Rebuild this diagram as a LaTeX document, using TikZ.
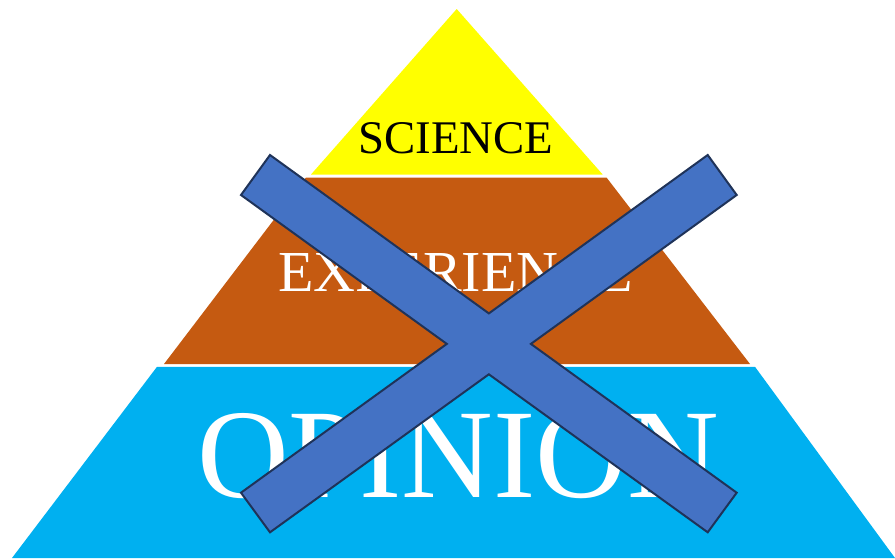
\documentclass[tikz,border=0pt]{standalone}
\usepackage{fontspec}
\setmainfont{Liberation Serif}
\definecolor{tieryellow}{HTML}{FFFF00}
\definecolor{tierbrown}{HTML}{C55A11}
\definecolor{tierblue}{HTML}{00B0F0}
\definecolor{crossfill}{HTML}{4472C4}
\definecolor{crossline}{HTML}{1F3359}
\tikzset{
  tierlabel/.style={anchor=base west, inner sep=0pt},
  crossmark/.style={fill=crossfill, draw=crossline, line width=2pt, line join=miter}
}
\begin{document}
\begin{tikzpicture}[x=1pt,y=-1pt]
\useasboundingbox (0,0) rectangle (895,560);
% tiers
\fill[tieryellow] (456.7,9) -- (602.7,174.5) -- (311,174.5) -- cycle;
\fill[tierbrown] (306,177.5) -- (606.5,177.5) -- (750,364) -- (164,364) -- cycle;
\fill[tierblue] (157,366.8) -- (755,366.8) -- (895,558) -- (12,558) -- cycle;
% labels
\node[tierlabel, text=black, font=\fontsize{46.8}{50}\selectfont] (sci) at (358,153) {SCIENCE};
\node[tierlabel, text=white, font=\fontsize{58}{60}\selectfont] (exp) at (278,291) {EXPERIENCE};
\node[tierlabel, text=white, font=\fontsize{127}{130}\selectfont] (opi) at (197,497) {OPINION};
% cross
\draw[crossmark] (270,155) -- (488.85,313.4) -- (707.7,155) -- (736.7,195)
  -- (530.9,343.9) -- (736.7,492.7) -- (707.7,532.3) -- (488.85,374.3)
  -- (270,532.3) -- (241,492.7) -- (446.8,343.9) -- (241,195) -- cycle;
\end{tikzpicture}
\end{document}
